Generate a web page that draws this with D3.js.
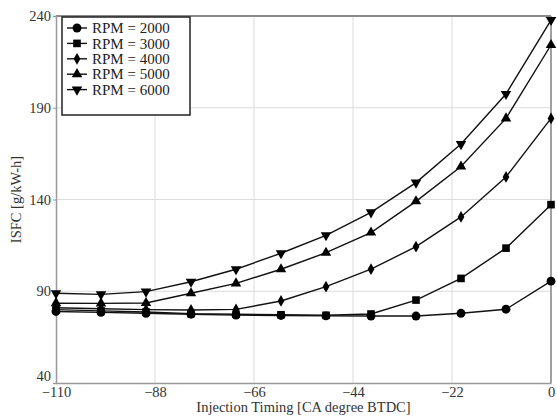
<!DOCTYPE html>
<html>
<head>
<meta charset="utf-8">
<script src="https://cdn.jsdelivr.net/npm/d3@7"></script>
<style>
  body { margin: 0; background: #fff; }
  svg { display: block; font-family: "Liberation Serif", "Times New Roman", serif; }
</style>
</head>
<body>
<div id="chart"></div>
<script>
// data
const timing = [-110, -100, -90, -80, -70, -60, -50, -40, -30, -20, -10, 0];
const rpm2000 = [79, 78.5, 78, 77.5, 77, 76.8, 76.6, 76.5, 76.5, 78, 80.2, 95.5];
const rpm3000 = [80, 79.3, 78.7, 77.8, 77.5, 77.2, 76.9, 77.6, 85.2, 97, 113.5, 137.2];
const rpm4000 = [81, 80.5, 80, 79.8, 80.1, 84.7, 92.5, 102, 114.3, 130.5, 152.3, 184.2];
const rpm5000 = [83.5, 83.4, 83.6, 88.9, 94.3, 102, 111, 122, 139, 158, 184.2, 224.2];
const rpm6000 = [88.9, 88.3, 89.8, 95.2, 102, 110.7, 120.5, 133, 149.2, 170.2, 197.5, 237.8];
const seriesNames = ["RPM = 2000", "RPM = 3000", "RPM = 4000", "RPM = 5000", "RPM = 6000"];
const xTicks = [-110, -88, -66, -44, -22, 0];
const yTicks = [40, 90, 140, 190, 240];

const width = 557, height = 417;
const margin = {top: 16, right: 6, bottom: 34, left: 56};

const series = [rpm2000, rpm3000, rpm4000, rpm5000, rpm6000].map((vals, i) => ({
    name: seriesNames[i],
    points: vals.map((v, j) => ({x: timing[j], y: v}))
}));

// marker shape for each series
const shapes = [
    d3.symbol().type(d3.symbolCircle).size(62),
    d3.symbol().type(d3.symbolSquare).size(58),
    d3.symbol().type(d3.symbolDiamond).size(40),
    d3.symbol().type(d3.symbolTriangle).size(48),
    d3.symbol().type(d3.symbolTriangle).size(48)
];

const svg = d3.select("#chart").append("svg")
    .attr("width", width)
    .attr("height", height);

const x = d3.scaleLinear().domain([-110, 0]).range([margin.left, width - margin.right]);
const y = d3.scaleLinear().domain([40, 240]).range([height - margin.bottom, margin.top]);

// grid
svg.append("g")
    .selectAll("line.vg")
    .data(xTicks.slice(1, -1))
    .join("line")
    .attr("x1", d => x(d)).attr("x2", d => x(d))
    .attr("y1", y(40)).attr("y2", y(240))
    .attr("stroke", "#dcdcdc").attr("stroke-width", 1);

svg.append("g")
    .selectAll("line.hg")
    .data(yTicks.slice(1, -1))
    .join("line")
    .attr("x1", x(-110)).attr("x2", x(0))
    .attr("y1", d => y(d)).attr("y2", d => y(d))
    .attr("stroke", "#dcdcdc").attr("stroke-width", 1);

// frame
svg.append("line")
    .attr("x1", x(-110)).attr("x2", x(0)).attr("y1", y(240)).attr("y2", y(240))
    .attr("stroke", "#8a8a8a").attr("stroke-width", 2);
svg.append("line")
    .attr("x1", x(0)).attr("x2", x(0)).attr("y1", y(240)).attr("y2", y(40))
    .attr("stroke", "#a0a0a0").attr("stroke-width", 2);

// axes
const xAxis = svg.append("g")
    .attr("transform", `translate(0,${y(40)})`)
    .call(d3.axisBottom(x).tickValues(xTicks).tickSize(0).tickPadding(5));
const yAxis = svg.append("g")
    .attr("transform", `translate(${x(-110)},0)`)
    .call(d3.axisLeft(y).tickValues(yTicks).tickSize(3).tickPadding(2));

[xAxis, yAxis].forEach(g => {
    g.select(".domain").attr("stroke", "#999").attr("stroke-width", 1.5);
    g.selectAll(".tick line").attr("stroke", "#999");
    g.selectAll("text")
        .attr("fill", "#333")
        .style("font-family", '"Liberation Serif", serif')
        .style("font-size", "14.5px");
});
xAxis.selectAll("text").attr("dy", "0.6em");
// the lowest y label sits a little above the axis, clear of "-110"
yAxis.selectAll(".tick text").filter(d => d === 40).attr("dy", "-0.2em");

// lines and markers
const line = d3.line().x(d => x(d.x)).y(d => y(d.y));

series.forEach((s, i) => {
    svg.append("path")
        .datum(s.points)
        .attr("d", line)
        .attr("fill", "none")
        .attr("stroke", "#111")
        .attr("stroke-width", 1.4);

    svg.append("g")
        .selectAll("path")
        .data(s.points)
        .join("path")
        .attr("d", shapes[i])
        .attr("transform", d => `translate(${x(d.x)},${y(d.y)})` + (i === 4 ? " rotate(180)" : ""))
        .attr("fill", "#000");
});

// legend
const legend = svg.append("g").attr("transform", "translate(62,17)");
legend.append("rect")
    .attr("width", 128).attr("height", 98)
    .attr("fill", "#fff")
    .attr("stroke", "#222").attr("stroke-width", 1.5);

series.forEach((s, i) => {
    const row = legend.append("g").attr("transform", `translate(0,${11 + i * 15.4})`);
    row.append("line")
        .attr("x1", 5).attr("x2", 25)
        .attr("stroke", "#111").attr("stroke-width", 1.4);
    row.append("path")
        .attr("d", shapes[i])
        .attr("transform", "translate(15,0)" + (i === 4 ? " rotate(180)" : ""))
        .attr("fill", "#000");
    row.append("text")
        .attr("x", 30).attr("dy", "0.35em")
        .attr("fill", "#222")
        .style("font-size", "15px")
        .text(s.name);
});

// axis titles
svg.append("text")
    .attr("x", (x(-110) + x(0)) / 2).attr("y", 412)
    .attr("text-anchor", "middle")
    .attr("fill", "#333")
    .style("font-size", "14.5px")
    .text("Injection Timing [CA degree BTDC]");

svg.append("text")
    .attr("transform", `translate(21,${(y(40) + y(240)) / 2}) rotate(-90)`)
    .attr("text-anchor", "middle")
    .attr("fill", "#333")
    .style("font-size", "14.5px")
    .text("ISFC [g/kW-h]");
</script>
</body>
</html>
